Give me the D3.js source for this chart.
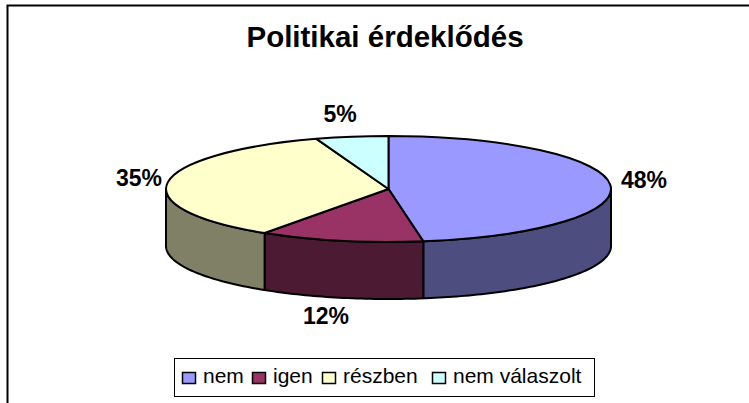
<!DOCTYPE html>
<html lang="hu">
<head>
<meta charset="UTF-8"/>
<title>Politikai érdeklődés</title>
<script src="https://d3js.org/d3.v7.min.js"></script>
<style>
	html, body { margin: 0; padding: 0; background: #fff; }
	svg { display: block; font-family: "Liberation Sans", Arial, sans-serif; }
</style>
</head>
<body>
<script>
	var w = 749;
	var h = 403;

	var categories = ["nem", "igen", "részben", "nem válaszolt"];
	// the labels round them to 48, 12, 35, 5
	var values = [47.5, 11.9, 35.35, 5.25];
	var colors = ["#9999ff", "#993366", "#ffffcc", "#ccffff"];
	var sideColors = ["#4d4d80", "#4d1a33", "#808066", "#668080"];

	// centre of the top ellipse and its radii
	var cx = 388.5;
	var cy = 189;
	var rx = 222.5;
	var ry = 53;
	var depth = 57;

	var svg = d3.select("body").append("svg")
		.attr("width", w)
		.attr("height", h);

	// frame, only top and left are inside the picture
	svg.append("path")
		.attr("d", "M7.5,403V5.5H749")
		.attr("fill", "none")
		.attr("stroke", "#000")
		.attr("stroke-width", 2);

	svg.append("text")
		.attr("x", 385)
		.attr("y", 47)
		.attr("text-anchor", "middle")
		.attr("font-size", 29.5)
		.attr("font-weight", "bold")
		.text("Politikai érdeklődés");

	var pie = d3.pie().sort(null)(values);

	function px(a) { return cx + rx * Math.sin(a); }
	function py(a) { return cy - ry * Math.cos(a); }

	// side walls: only the part of a slice that lies on the front half
	var sideLine = d3.line().x(function(d) { return d[0]; }).y(function(d) { return d[1]; });
	var front = pie.map(function(d) {
		return {
			index: d.index,
			start: Math.max(d.startAngle, Math.PI / 2),
			end: Math.min(d.endAngle, Math.PI * 1.5)
		};
	}).filter(function(d) { return d.end > d.start; });

	svg.selectAll(".side")
		.data(front)
		.enter()
		.append("path")
		.attr("class", "side")
		.attr("fill", function(d) { return sideColors[d.index]; })
		.attr("stroke", "#000")
		.attr("stroke-width", 2)
		.attr("stroke-linejoin", "round")
		.attr("d", function(d) {
			var angles = d3.range(d.start, d.end, 0.02).concat([d.end]);
			var top = angles.map(function(a) { return [px(a), py(a)]; });
			var bottom = angles.slice().reverse().map(function(a) { return [px(a), py(a) + depth]; });
			return sideLine(top.concat(bottom)) + "Z";
		});

	// top face: d3.arc squashed to an ellipse
	var arc = d3.arc().innerRadius(0).outerRadius(rx);
	svg.append("g")
		.attr("transform", "translate(" + cx + "," + cy + ") scale(1," + (ry / rx) + ")")
		.selectAll("path")
		.data(pie)
		.enter()
		.append("path")
		.attr("d", arc)
		.attr("fill", function(d) { return colors[d.index]; })
		.attr("stroke", "#000")
		.attr("stroke-width", 2)
		.attr("stroke-linejoin", "round")
		.attr("vector-effect", "non-scaling-stroke");

	// percent labels
	var labelPos = [[644, 188], [326, 324], [139, 186], [340, 122]];
	svg.selectAll(".pct")
		.data(values)
		.enter()
		.append("text")
		.attr("class", "pct")
		.attr("x", function(d, i) { return labelPos[i][0]; })
		.attr("y", function(d, i) { return labelPos[i][1]; })
		.attr("text-anchor", "middle")
		.attr("font-size", 23)
		.attr("font-weight", "bold")
		.text(function(d) { return Math.round(d) + "%"; });

	// legend
	svg.append("rect")
		.attr("x", 174.5)
		.attr("y", 358.5)
		.attr("width", 420)
		.attr("height", 38)
		.attr("fill", "#fff")
		.attr("stroke", "#000")
		.attr("stroke-width", 1);

	var swatchX = [182.5, 252.5, 322.5, 432.5];
	var legend = svg.selectAll(".leg")
		.data(categories)
		.enter()
		.append("g")
		.attr("class", "leg")
		.attr("transform", function(d, i) { return "translate(" + swatchX[i] + ",372.5)"; });

	legend.append("rect")
		.attr("width", 13)
		.attr("height", 11)
		.attr("fill", function(d, i) { return colors[i]; })
		.attr("stroke", "#000")
		.attr("stroke-width", 1.5);

	legend.append("text")
		.attr("x", 20.5)
		.attr("y", 10.5)
		.attr("font-size", 21)
		.text(function(d) { return d; });
</script>
</body>
</html>
